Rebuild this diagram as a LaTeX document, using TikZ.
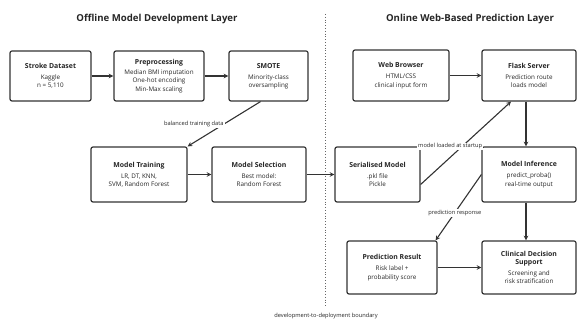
\documentclass[tikz,border=0pt]{standalone}
\usepackage{fontspec}
\setmainfont{Open Sans}
\usetikzlibrary{arrows}

\begin{document}
\begin{tikzpicture}[x=1pt,y=-1pt]
% define box types
\tikzstyle{stage}=[draw=black!80, line width=1.2pt, rectangle, rounded corners=2pt, fill=white,
    align=center, inner sep=2pt, text=black!85, font=\fontsize{6.3}{8.2}\selectfont]
\tikzstyle{title}=[font=\fontsize{9.6}{11}\selectfont\bfseries, text=black!85]
\tikzstyle{lbl}=[fill=white, inner sep=1pt, font=\fontsize{5.7}{7}\selectfont, text=black!85]
\tikzstyle{a}=[line width=1.1pt, black!80, ->, >=stealth]
\useasboundingbox (0,0) rectangle (578,320);
% headings
\node[title] (offt) at (157,19) {Offline Model Development Layer};
\node[title] (onlt) at (470,19) {Online Web-Based Prediction Layer};
% boundary
\coordinate (btop) at (325,14);
\coordinate (bbot) at (325,306);
\draw[black!60, dotted, line width=0.8pt] (btop) -- (bbot);
\node[lbl] (blbl) at (326,316) {development-to-deployment boundary};
% offline steps
\node[stage, minimum width=81pt, minimum height=50pt] (data) at (50.5,76)
    {\textbf{\fontsize{6.9}{8}\selectfont Stroke Dataset}\\[3pt] Kaggle\\ n = 5,110};
\node[stage, minimum width=90pt, minimum height=50pt] (prep) at (159,76)
    {\textbf{\fontsize{6.9}{8}\selectfont Preprocessing}\\[2pt] Median BMI imputation\\ One-hot encoding\\ Min-Max scaling};
\node[stage, minimum width=79pt, minimum height=50pt] (smote) at (268.5,76)
    {\textbf{\fontsize{6.9}{8}\selectfont SMOTE}\\[3pt] Minority-class\\ oversampling};
\node[stage, minimum width=96pt, minimum height=55pt] (train) at (139,174.5)
    {\textbf{\fontsize{6.9}{8}\selectfont Model Training}\\[3pt] LR, DT, KNN,\\ SVM, Random Forest};
\node[stage, minimum width=94pt, minimum height=55pt] (select) at (259,174.5)
    {\textbf{\fontsize{6.9}{8}\selectfont Model Selection}\\[3pt] Best model:\\ Random Forest};
% online steps
\node[stage, minimum width=96pt, minimum height=51pt] (browser) at (401,75.5)
    {\textbf{\fontsize{6.9}{8}\selectfont Web Browser}\\[3pt] HTML/CSS\\ clinical input form};
\node[stage, minimum width=94pt, minimum height=51pt] (flask) at (529,75.5)
    {\textbf{\fontsize{6.9}{8}\selectfont Flask Server}\\[3pt] Prediction route\\ loads model};
\node[stage, minimum width=85pt, minimum height=55pt] (serial) at (377.5,174.5)
    {\textbf{\fontsize{6.9}{8}\selectfont Serialised Model}\\[3pt] .pkl file\\ Pickle};
\node[stage, minimum width=94pt, minimum height=55pt] (infer) at (529,174.5)
    {\textbf{\fontsize{6.9}{8}\selectfont Model Inference}\\[3pt] predict\_proba()\\ real-time output};
\node[stage, minimum width=90pt, minimum height=53pt] (result) at (392,267.5)
    {\textbf{\fontsize{6.9}{8}\selectfont Prediction Result}\\[3pt] Risk label +\\ probability score};
\node[stage, minimum width=94pt, minimum height=53pt] (cds) at (529,267.5)
    {\textbf{\fontsize{6.9}{8}\selectfont Clinical Decision}\\ \textbf{\fontsize{6.9}{8}\selectfont Support}\\[3pt] Screening and\\ risk stratification};
% offline flow
\draw[a] (data) -- (prep);
\draw[a] (prep) -- (smote);
\draw[a] ([xshift=-8pt]smote.south) -- (train.north east)
    node[lbl, pos=0.5, anchor=east, xshift=1pt] {balanced training data};
\draw[a] (train) -- (select);
\draw[a] (select) -- (serial);
% online flow
\draw[a] (browser) -- (flask);
\draw[a] ([yshift=-10pt]serial.east) -- ([xshift=-18pt]flask.south)
    node[lbl, pos=0.46, xshift=-12pt] {model loaded at startup};
\draw[a] ([xshift=-3pt]flask.south) -- ([xshift=-3pt]infer.north);
\draw[a] (infer.west) -- ([xshift=-2pt]result.north east)
    node[lbl, pos=0.58] {prediction response};
\draw[a] ([xshift=-3pt]infer.south) -- ([xshift=-3pt]cds.north);
\draw[a] (result) -- (cds);
\end{tikzpicture}
\end{document}
